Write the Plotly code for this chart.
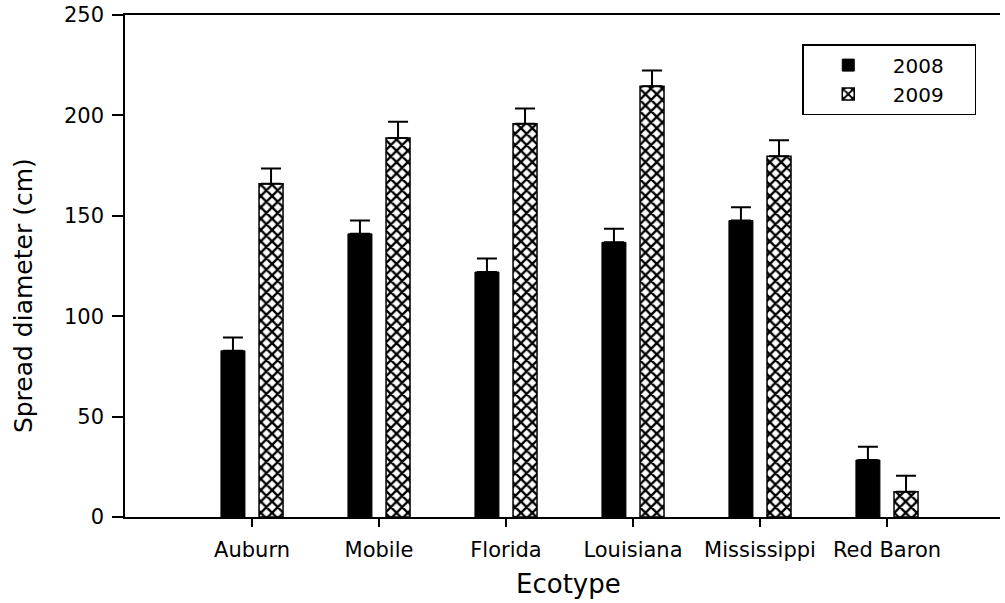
import plotly.graph_objects as go

ecotypes = ["Auburn", "Mobile", "Florida", "Louisiana", "Mississippi", "Red Baron"]
spread_2008 = [82.8, 141, 122, 136.8, 147.6, 28.4]
err_2008 = [6.6, 6.7, 6.7, 6.8, 6.6, 6.6]
spread_2009 = [165.9, 188.8, 195.8, 214.5, 179.6, 12.6]
err_2009 = [7.6, 8.0, 7.6, 7.8, 8.0, 8.0]
y_ticks = [0, 50, 100, 150, 200, 250]
series_names = ["2008", "2009"]

FONT = "DejaVu Sans"
PAD = "\u00a0" * 4  # trailing padding inside the legend box

fig = go.Figure()
fig.add_trace(go.Bar(
    name=series_names[0] + PAD, x=ecotypes, y=spread_2008,
    marker=dict(color="black", line=dict(color="black", width=1)),
    error_y=dict(type="data", array=err_2008, arrayminus=[0] * len(err_2008),
                 symmetric=False, color="black", thickness=2, width=10),
))
fig.add_trace(go.Bar(
    name=series_names[1] + PAD, x=ecotypes, y=spread_2009,
    marker=dict(color="white", line=dict(color="black", width=1.5),
                pattern=dict(shape="x", size=8, solidity=0.5, fgopacity=1,
                             fgcolor="black", bgcolor="white", fillmode="overlay")),
    error_y=dict(type="data", array=err_2009, arrayminus=[0] * len(err_2009),
                 symmetric=False, color="black", thickness=2, width=10),
))

fig.update_layout(
    width=1005, height=603,
    margin=dict(l=125, r=5, t=15, b=86, autoexpand=False),
    paper_bgcolor="white", plot_bgcolor="white",
    barmode="group", bargap=0.4, bargroupgap=0.37,
    font=dict(family=FONT, color="black", size=21),
    showlegend=True,
    legend=dict(x=0.774, y=0.942, xanchor="left", yanchor="top",
                bordercolor="black", borderwidth=1.5, bgcolor="white",
                font=dict(family=FONT, size=20, color="black"),
                itemwidth=79),
    annotations=[
        dict(text="Spread diameter (cm)", textangle=-90, showarrow=False,
             xref="paper", yref="paper", x=0, y=0.44, xanchor="center", yanchor="middle",
             xshift=-102, font=dict(family=FONT, size=25, color="black")),
        dict(text="Ecotype", showarrow=False,
             xref="paper", yref="paper", x=0.5, y=0, xanchor="center", yanchor="middle",
             xshift=6, yshift=-67, font=dict(family=FONT, size=26, color="black")),
    ],
)
fig.update_xaxes(
    type="category", range=[-1, 5.89], automargin=False,
    showline=True, linecolor="black", linewidth=1.5, mirror=True,
    ticks="outside", ticklen=8, tickwidth=1.5, tickcolor="black",
    tickfont=dict(family=FONT, size=21, color="black"),
    ticklabelstandoff=5,
    showgrid=False, zeroline=False,
)
fig.update_yaxes(
    range=[0, 250], tickvals=y_ticks, automargin=False,
    showline=True, linecolor="black", linewidth=1.5,
    ticks="outside", ticklen=11, tickwidth=1.5, tickcolor="black",
    tickfont=dict(family=FONT, size=21, color="black"),
    ticklabelstandoff=4, ticklabeloverflow="allow",
    showgrid=False, zeroline=False,
)

fig.write_html("out.html",
               config={"displayModeBar": False},
               post_script="document.body.style.margin='0';document.body.style.overflow='hidden';")
